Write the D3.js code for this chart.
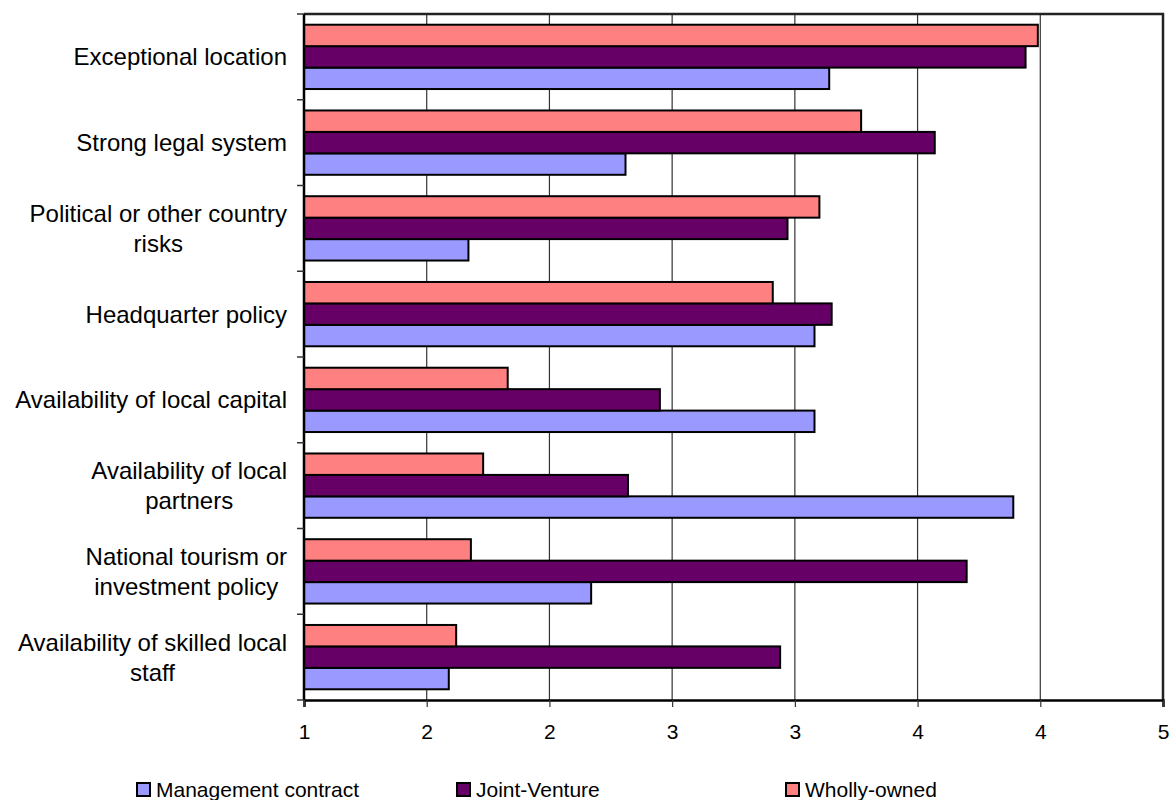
<!DOCTYPE html>
<html>
<head>
<meta charset="utf-8">
<script src="https://cdn.jsdelivr.net/npm/d3@7"></script>
<style>
  html, body { margin: 0; padding: 0; background: #fff; }
  svg { display: block; font-family: "Liberation Sans", Arial, sans-serif; }
</style>
</head>
<body>
<svg id="chart" width="1170" height="800"></svg>
<script>
// ---- data ----
const categories = [
  ["Exceptional location"],
  ["Strong legal system"],
  ["Political or other country", "risks"],
  ["Headquarter policy"],
  ["Availability of local capital"],
  ["Availability of local", "partners"],
  ["National tourism or", "investment policy"],
  ["Availability of skilled local", "staff"]
];
const seriesNames = ["Management contract", "Joint-Venture", "Wholly-owned"];
const managementContract = [3.14, 2.31, 1.67, 3.08, 3.08, 3.89, 2.17, 1.59];
const jointVenture       = [3.94, 3.57, 2.97, 3.15, 2.45, 2.32, 3.70, 2.94];
const whollyOwned        = [3.99, 3.27, 3.10, 2.91, 1.83, 1.73, 1.68, 1.62];
const tickValues = [1, 1.5, 2, 2.5, 3, 3.5, 4, 4.5];
const tickLabels = ["1", "2", "2", "3", "3", "4", "4", "5"];
const colors = ["#9999FF", "#660066", "#FF8080"];

(function draw() {
  const svg = d3.select("#chart");
  const pLeft = 304, pRight = 1163, pTop = 14, pBottom = 700;
  const catKeys = categories.map((c, i) => i);
  const x = d3.scaleLinear().domain([1, 4.5]).range([pLeft, pRight]);
  const y = d3.scaleBand().domain(catKeys).range([pTop, pBottom]).paddingInner(0).paddingOuter(0);
  const bw = y.bandwidth();
  const gap = bw / 4;
  // order top->bottom within a category: Wholly-owned, Joint-Venture, Management
  const inner = d3.scaleBand().domain([2, 1, 0]).range([gap / 2, bw - gap / 2]);
  const seriesValues = [managementContract, jointVenture, whollyOwned];

  // gridlines
  svg.append("g").selectAll("line").data(tickValues.slice(1, -1)).join("line")
    .attr("x1", d => x(d)).attr("x2", d => x(d))
    .attr("y1", pTop).attr("y2", pBottom)
    .attr("stroke", "#333").attr("stroke-width", 1.2);

  // plot border (top/right)
  svg.append("path")
    .attr("d", `M${pLeft},${pTop}H${pRight}V${pBottom}`)
    .attr("fill", "none").attr("stroke", "#222").attr("stroke-width", 2.5);

  // bars
  seriesValues.forEach((vals, s) => {
    svg.append("g").selectAll("rect").data(vals).join("rect")
      .attr("x", x(1))
      .attr("y", (d, i) => y(i) + inner(s))
      .attr("width", d => x(d) - x(1))
      .attr("height", inner.bandwidth())
      .attr("fill", colors[s])
      .attr("stroke", "#000").attr("stroke-width", 2);
  });

  // bottom axis
  const xAxis = d3.axisBottom(x).tickValues(tickValues)
    .tickFormat((d, i) => tickLabels[i]).tickSize(7).tickPadding(17);
  const gx = svg.append("g").attr("transform", `translate(0,${pBottom})`).call(xAxis);
  gx.select(".domain").attr("stroke", "#000").attr("stroke-width", 2.5);
  gx.selectAll(".tick line").attr("stroke", "#333").attr("stroke-width", 1.2);
  gx.selectAll(".tick text").attr("font-size", 21).attr("fill", "#000")
    .attr("font-family", "'Liberation Sans', Arial, sans-serif");

  // left axis (ticks at category boundaries)
  const boundaries = catKeys.map(i => y(i)).concat([pBottom]);
  svg.append("line").attr("x1", pLeft).attr("x2", pLeft).attr("y1", pTop).attr("y2", pBottom)
    .attr("stroke", "#000").attr("stroke-width", 2.5);
  svg.append("g").selectAll("line").data(boundaries).join("line")
    .attr("x1", pLeft - 7).attr("x2", pLeft).attr("y1", d => d).attr("y2", d => d)
    .attr("stroke", "#333").attr("stroke-width", 1.5);

  // category labels
  const fs = 24, lh = 30, labelRight = 287;
  categories.forEach((lines, i) => {
    const cy = y(i) + bw / 2;
    const g = svg.append("g");
    const texts = lines.map((t, k) => g.append("text")
      .attr("font-size", fs).attr("fill", "#000")
      .attr("text-anchor", "middle")
      .attr("dominant-baseline", "central")
      .attr("y", cy + (k - (lines.length - 1) / 2) * lh)
      .text(t));
    const maxW = d3.max(texts, t => t.node().getComputedTextLength());
    texts.forEach(t => t.attr("x", labelRight - maxW / 2));
  });

  // legend
  const legendX = [137, 457, 786];
  seriesNames.forEach((name, s) => {
    const g = svg.append("g").attr("transform", `translate(${legendX[s]},783)`);
    g.append("rect").attr("width", 13).attr("height", 13)
      .attr("fill", colors[s]).attr("stroke", "#000").attr("stroke-width", 2);
    g.append("text").attr("x", 19).attr("y", 6.5).attr("dominant-baseline", "central")
      .attr("font-size", 21).attr("fill", "#000").text(name);
  });
})();
</script>
</body>
</html>
